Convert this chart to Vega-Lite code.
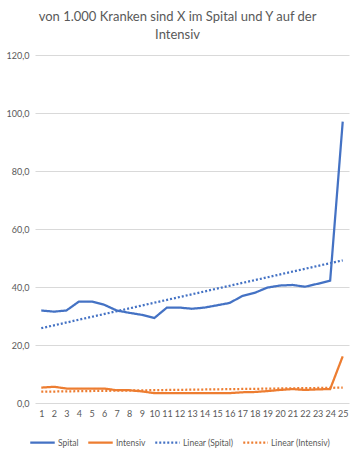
{
  "$schema": "https://vega.github.io/schema/vega-lite/v6.json",
  "autosize": "none",
  "width": 314,
  "height": 348,
  "padding": {"left": 35, "top": 55, "right": 12, "bottom": 48},
  "background": "white",
  "config": {
    "font": "Lato",
    "view": {"stroke": null},
    "axis": {"labelFont": "Lato", "labelColor": "#595959", "labelFontSize": 9, "gridColor": "#D9D9D9", "gridWidth": 1}
  },
  "title": {
    "text": ["von 1.000 Kranken sind X im Spital und Y auf der", "Intensiv"],
    "font": "Lato",
    "fontSize": 13,
    "fontWeight": "normal",
    "color": "#595959",
    "anchor": "middle",
    "frame": "bounds",
    "lineHeight": 18,
    "offset": 9
  },
  "data": {
    "values": [
      {"x": 1, "series": "Spital", "value": 31.9},
      {"x": 2, "series": "Spital", "value": 31.5},
      {"x": 3, "series": "Spital", "value": 31.9},
      {"x": 4, "series": "Spital", "value": 35.0},
      {"x": 5, "series": "Spital", "value": 35.0},
      {"x": 6, "series": "Spital", "value": 33.9},
      {"x": 7, "series": "Spital", "value": 31.9},
      {"x": 8, "series": "Spital", "value": 31.1},
      {"x": 9, "series": "Spital", "value": 30.4},
      {"x": 10, "series": "Spital", "value": 29.3},
      {"x": 11, "series": "Spital", "value": 32.9},
      {"x": 12, "series": "Spital", "value": 32.9},
      {"x": 13, "series": "Spital", "value": 32.5},
      {"x": 14, "series": "Spital", "value": 32.9},
      {"x": 15, "series": "Spital", "value": 33.7},
      {"x": 16, "series": "Spital", "value": 34.5},
      {"x": 17, "series": "Spital", "value": 36.9},
      {"x": 18, "series": "Spital", "value": 38.0},
      {"x": 19, "series": "Spital", "value": 39.8},
      {"x": 20, "series": "Spital", "value": 40.5},
      {"x": 21, "series": "Spital", "value": 40.7},
      {"x": 22, "series": "Spital", "value": 40.1},
      {"x": 23, "series": "Spital", "value": 41.1},
      {"x": 24, "series": "Spital", "value": 42.2},
      {"x": 25, "series": "Spital", "value": 97.0},
      {"x": 1, "series": "Intensiv", "value": 5.3},
      {"x": 2, "series": "Intensiv", "value": 5.6},
      {"x": 3, "series": "Intensiv", "value": 5.0},
      {"x": 4, "series": "Intensiv", "value": 5.0},
      {"x": 5, "series": "Intensiv", "value": 5.0},
      {"x": 6, "series": "Intensiv", "value": 5.0},
      {"x": 7, "series": "Intensiv", "value": 4.4},
      {"x": 8, "series": "Intensiv", "value": 4.4},
      {"x": 9, "series": "Intensiv", "value": 4.0},
      {"x": 10, "series": "Intensiv", "value": 3.4},
      {"x": 11, "series": "Intensiv", "value": 3.4},
      {"x": 12, "series": "Intensiv", "value": 3.4},
      {"x": 13, "series": "Intensiv", "value": 3.4},
      {"x": 14, "series": "Intensiv", "value": 3.4},
      {"x": 15, "series": "Intensiv", "value": 3.4},
      {"x": 16, "series": "Intensiv", "value": 3.4},
      {"x": 17, "series": "Intensiv", "value": 3.7},
      {"x": 18, "series": "Intensiv", "value": 3.8},
      {"x": 19, "series": "Intensiv", "value": 4.1},
      {"x": 20, "series": "Intensiv", "value": 4.5},
      {"x": 21, "series": "Intensiv", "value": 4.8},
      {"x": 22, "series": "Intensiv", "value": 4.5},
      {"x": 23, "series": "Intensiv", "value": 4.7},
      {"x": 24, "series": "Intensiv", "value": 4.8},
      {"x": 25, "series": "Intensiv", "value": 16.1},
      {"x": 1, "series": "Linear (Spital)", "value": 25.8},
      {"x": 25, "series": "Linear (Spital)", "value": 49.2},
      {"x": 1, "series": "Linear (Intensiv)", "value": 3.9},
      {"x": 25, "series": "Linear (Intensiv)", "value": 5.3}
    ]
  },
  "mark": {"type": "line", "strokeWidth": 2.25},
  "encoding": {
    "x": {
      "field": "x",
      "type": "ordinal",
      "scale": {"type": "point", "padding": 0.5},
      "axis": {"title": null, "labelAngle": 0, "ticks": false, "domain": false, "grid": false, "labelPadding": 6}
    },
    "y": {
      "field": "value",
      "type": "quantitative",
      "scale": {"domain": [0, 120], "nice": false},
      "axis": {"title": null, "values": [0, 20, 40, 60, 80, 100, 120], "ticks": false, "domain": false, "labelPadding": 6, "labelExpr": "replace(format(datum.value, '.1f'), '.', ',')"}
    },
    "color": {
      "field": "series",
      "type": "nominal",
      "sort": null,
      "scale": {"domain": ["Spital", "Intensiv", "Linear (Spital)", "Linear (Intensiv)"], "range": ["#4472C4", "#ED7D31", "#4472C4", "#ED7D31"]},
      "legend": {"title": null, "orient": "none", "legendX": -6, "legendY": 374, "direction": "horizontal", "gridAlign": "none", "symbolType": "stroke", "symbolStrokeWidth": 2.25, "symbolSize": 600, "labelFontSize": 8.5, "labelColor": "#595959", "labelFont": "Lato", "columnPadding": 4, "symbolOffset": 0, "labelOffset": 2}
    },
    "strokeDash": {
      "field": "series",
      "type": "nominal",
      "sort": null,
      "scale": {"domain": ["Spital", "Intensiv", "Linear (Spital)", "Linear (Intensiv)"], "range": [[1, 0], [1, 0], [2, 2], [2, 2]]},
      "legend": {"title": null, "orient": "none", "legendX": -6, "legendY": 374, "direction": "horizontal", "gridAlign": "none", "symbolType": "stroke", "symbolStrokeWidth": 2.25, "symbolSize": 600, "labelFontSize": 8.5, "labelColor": "#595959", "labelFont": "Lato", "columnPadding": 4, "symbolOffset": 0, "labelOffset": 2}
    }
  }
}
